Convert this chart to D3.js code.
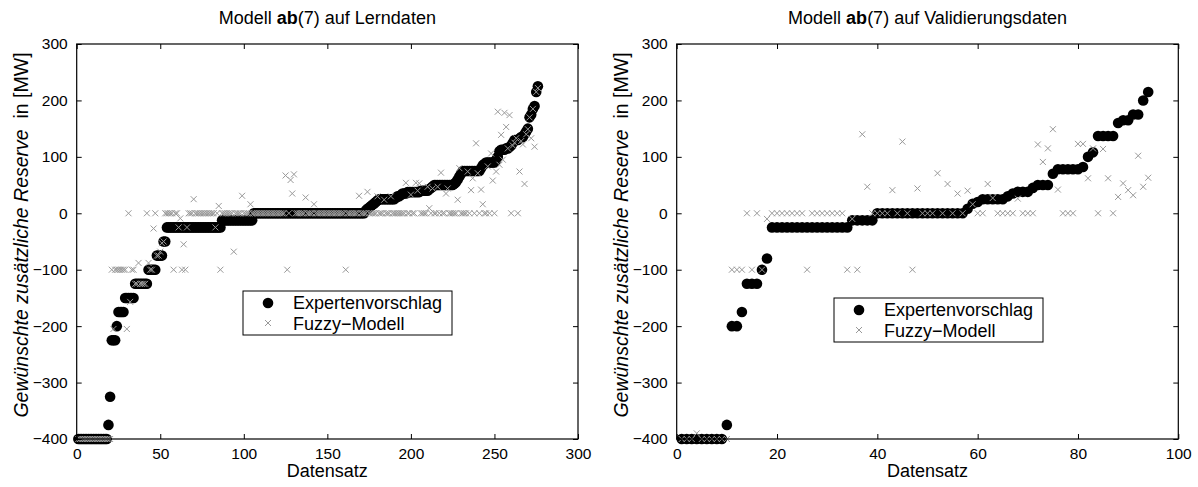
<!DOCTYPE html>
<html lang="de">
<head>
<meta charset="UTF-8">
<title>Modell ab(7)</title>
<script src="https://d3js.org/d3.v7.min.js"></script>
<style>
  body { margin: 0; background: #fff; }
  svg { display: block; font-family: "Liberation Sans", Arial, Helvetica, sans-serif; }
</style>
</head>
<body>
<svg id="chart"></svg>
<script>
var width = 1198, height = 487;

// Lerndaten: Expertenvorschlag (sortiert) und Fuzzy-Modell, 276 Datensaetze
var expertLern = [
  -400,-400,-400,-400,-400,-400,-400,-400,-400,-400,
  -400,-400,-400,-400,-400,-400,-400,-400,-375,-325,
  -225,-225,-225,-200,-175,-175,-175,-175,-150,-150,
  -150,-150,-150,-150,-125,-125,-125,-125,-125,-125,
  -125,-125,-100,-100,-100,-100,-100,-75,-75,-75,
  -75,-50,-50,-25,-25,-25,-25,-25,-25,-25,
  -25,-25,-25,-25,-25,-25,-25,-25,-25,-25,
  -25,-25,-25,-25,-25,-25,-25,-25,-25,-25,
  -25,-25,-25,-25,-25,-25,-12.5,-12.5,-12.5,-12.5,
  -12.5,-12.5,-12.5,-12.5,-12.5,-12.5,-12.5,-12.5,-12.5,-12.5,
  -12.5,-12.5,-12.5,-12.5,-12.5,0,0,0,0,0,
  0,0,0,0,0,0,0,0,0,0,
  0,0,0,0,0,0,0,0,0,0,
  0,0,0,0,0,0,0,0,0,0,
  0,0,0,0,0,0,0,0,0,0,
  0,0,0,0,0,0,0,0,0,0,
  0,0,0,0,0,0,0,0,0,0,
  0,0,5,8,10,12.5,15,17.5,20,22.5,
  25,25,25,25,25,25,25,25,25,25,
  27.5,30,30,32.5,35,35,35,37.5,37.5,37.5,
  37.5,37.5,37.5,37.5,37.5,40,40,40,40,40,
  42.5,45,47.5,50,50,50,50,50,50,50,
  50,50,50,50,50,52.5,55,60,65,70,
  75,75,75,75,75,75,75,75,75,75,
  75,80,85,87.5,90,90,90,90,90,90,
  95,100,110,112.5,112.5,112.5,115,115,117.5,120,
  125,130,130,130,132.5,135,135,140,145,150,
  170,175,185,190,215,225
];
var fuzzyLern = [
  -400,-400,-400,-400,-400,-400,-400,-400,-400,-400,
  -400,-400,-400,-400,-400,-400,-400,-400,-400,-400,
  -100,-205,-100,-100,-100,-100,-100,-100,-100,-205,
  0,-157,-100,-100,-125,-125,-88,-125,-125,-125,
  -125,0,-88,-100,-100,-27,0,-75,-75,-68,
  -53,-50,0,0,0,0,0,-100,0,0,
  -25,-9,-100,-55,-100,-25,0,0,0,25,
  0,0,0,0,0,0,0,0,0,0,
  0,0,-25,0,13,-100,0,0,0,0,
  0,0,0,-68,0,0,0,0,31,0,
  0,0,0,16,0,0,0,0,0,0,
  0,0,0,0,0,0,0,0,0,0,
  0,0,0,0,67,-100,0,59,35,69,
  0,0,0,0,0,0,28,0,0,0,
  0,16,0,0,0,0,0,0,0,0,
  0,0,0,0,0,0,0,0,0,0,
  -100,0,0,0,0,0,0,0,31,0,
  0,0,0,38,0,0,0,0,0,30,
  0,0,0,24,0,0,0,30,0,0,
  0,0,0,0,0,0,54,0,0,33,
  0,0,54,40,53,0,0,0,0,47,
  9,0,44,0,0,47,0,72,0,0,
  35,44,0,0,0,0,0,24,80,0,
  0,0,0,74,0,41,62,0,124,71,
  0,42,16,0,0,83,0,106,58,0,
  74,180,86,139,95,178,153,115,174,0,
  120,125,133,0,74,128,122,52,140,149,
  170,133,185,118,215,222
];

// Validierungsdaten, 94 Datensaetze
var expertVal = [
  -400,-400,-400,-400,-400,-400,-400,-400,-400,-375,
  -200,-200,-175,-125,-125,-125,-100,-80,-25,-25,
  -25,-25,-25,-25,-25,-25,-25,-25,-25,-25,
  -25,-25,-25,-25,-12.5,-12.5,-12.5,-12.5,-12.5,0,
  0,0,0,0,0,0,0,0,0,0,
  0,0,0,0,0,0,0,8,17,20,
  25,25,25,25,25,30,35,38,38,38,
  45,50,50,50,70,78,78,78,78,78,
  82,100,108,137,137,137,137,160,165,165,
  175,175,200,215
];
var fuzzyVal = [
  -400,-400,-400,-390,-400,-400,-400,-400,-400,-400,
  -100,-100,-100,0,-100,0,-100,-10,0,0,
  0,0,0,0,0,-100,0,0,0,0,
  0,0,0,-100,-10,-100,140,47,0,0,
  0,0,41,0,127,0,-100,44,0,0,
  0,71,0,52,0,35,0,40,16,0,
  0,52,27,0,0,0,0,26,0,0,
  0,122,91,115,149,42,0,0,0,123,
  123,62,115,0,114,62,0,29,53,41,
  32,102,47,63
];

var yTicks = [-400, -300, -200, -100, 0, 100, 200, 300];
var xTicksLern = [0, 50, 100, 150, 200, 250, 300];
var xTicksVal = [0, 20, 40, 60, 80, 100];
var seriesNames = ["Expertenvorschlag", "Fuzzy\u2212Modell"];

var svg = d3.select("#chart").attr("width", width).attr("height", height);

var crossPath = function(s) {
  return "M" + (-s) + "," + (-s) + "L" + s + "," + s + "M" + s + "," + (-s) + "L" + (-s) + "," + s;
};
var fmt = function(d) { return d < 0 ? "\u2212" + Math.abs(d) : String(d); };

function drawPanel(p) {
  var x = d3.scaleLinear().domain(p.xDomain).range([p.left, p.right]);
  var y = d3.scaleLinear().domain([-400, 300]).range([439, 44]);
  var g = svg.append("g");

  // data: circles first, crosses on top
  g.selectAll("circle.exp")
    .data(p.expert)
    .enter().append("circle")
    .attr("class", "exp")
    .attr("cx", function(d, i) { return x(i + 1); })
    .attr("cy", function(d) { return y(d); })
    .attr("r", 5.3)
    .attr("fill", "#000");

  g.selectAll("path.fz")
    .data(p.fuzzy)
    .enter().append("path")
    .attr("class", "fz")
    .attr("d", crossPath(3))
    .attr("transform", function(d, i) { return "translate(" + x(i + 1) + "," + y(d) + ")"; })
    .attr("stroke", "#999")
    .attr("stroke-width", 1)
    .attr("fill", "none");

  // axes, ticks inward on all sides (matlab box)
  var tl = 5;
  var axB = g.append("g").attr("transform", "translate(0,439)")
    .call(d3.axisBottom(x).tickValues(p.xTicks).tickSizeInner(-tl).tickSizeOuter(0).tickPadding(9));
  var axT = g.append("g").attr("transform", "translate(0,44)")
    .call(d3.axisTop(x).tickValues(p.xTicks).tickSizeInner(-tl).tickSizeOuter(0).tickFormat(""));
  var axL = g.append("g").attr("transform", "translate(" + p.left + ",0)")
    .call(d3.axisLeft(y).tickValues(yTicks).tickSizeInner(-tl).tickSizeOuter(0).tickPadding(9).tickFormat(fmt));
  var axR = g.append("g").attr("transform", "translate(" + p.right + ",0)")
    .call(d3.axisRight(y).tickValues(yTicks).tickSizeInner(-tl).tickSizeOuter(0).tickFormat(""));
  [axB, axT, axL, axR].forEach(function(a) {
    a.select(".domain").remove();
    a.selectAll("line").attr("stroke", "#000");
    a.selectAll("text").attr("fill", "#000").style("font-size", "15.5px");
  });

  g.append("rect")
    .attr("x", p.left).attr("y", 44)
    .attr("width", p.right - p.left).attr("height", 395)
    .attr("fill", "none").attr("stroke", "#000").attr("stroke-width", 1.2);

  // title
  var cx = (p.left + p.right) / 2;
  var t = g.append("text").attr("x", cx).attr("y", 24)
    .attr("text-anchor", "middle").style("font-size", "18px");
  t.append("tspan").text("Modell ");
  t.append("tspan").style("font-weight", "bold").text("ab");
  t.append("tspan").text("(7) " + p.title);

  // x label
  g.append("text").attr("x", cx).attr("y", 477)
    .attr("text-anchor", "middle").style("font-size", "18px").text("Datensatz");

  // y label
  var yl = g.append("text")
    .attr("transform", "translate(" + p.ylabX + ",235) rotate(-90)")
    .attr("text-anchor", "middle").style("font-size", "19.5px");
  yl.append("tspan").style("font-style", "italic").text("Gew\u00fcnschte zus\u00e4tzliche Reserve");
  yl.append("tspan").attr("xml:space", "preserve").text("  in [MW]");

  // legend
  var L = p.legend;
  var lg = g.append("g");
  lg.append("rect").attr("x", L.x).attr("y", L.y).attr("width", 209).attr("height", 44)
    .attr("fill", "#fff").attr("stroke", "#000").attr("stroke-width", 1);
  lg.append("circle").attr("cx", L.x + 25).attr("cy", L.y + 12).attr("r", 5.3).attr("fill", "#000");
  lg.append("path").attr("d", crossPath(3))
    .attr("transform", "translate(" + (L.x + 25) + "," + (L.y + 32) + ")")
    .attr("stroke", "#999").attr("fill", "none");
  lg.selectAll("text.leg").data(seriesNames).enter().append("text")
    .attr("class", "leg")
    .attr("x", L.x + 50).attr("y", function(d, i) { return L.y + 18 + i * 21; })
    .style("font-size", "18px").text(function(d) { return d; });
}

drawPanel({
  left: 76.7, right: 578, xDomain: [0, 300], xTicks: xTicksLern,
  expert: expertLern, fuzzy: fuzzyLern, title: "auf Lerndaten",
  ylabX: 28, legend: { x: 243, y: 291 }
});
drawPanel({
  left: 676.7, right: 1178.3, xDomain: [0, 100], xTicks: xTicksVal,
  expert: expertVal, fuzzy: fuzzyVal, title: "auf Validierungsdaten",
  ylabX: 628, legend: { x: 834, y: 298 }
});
</script>
</body>
</html>
